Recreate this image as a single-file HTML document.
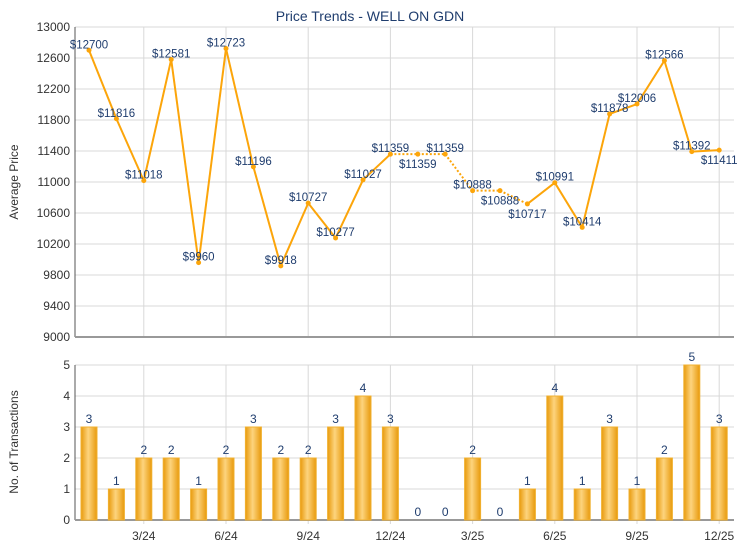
<!DOCTYPE html>
<html><head><meta charset="utf-8"><style>body{margin:0;background:#fff}svg{display:block;font-family:"Liberation Sans",sans-serif}</style></head><body>
<svg width="740" height="550" viewBox="0 0 740 550" xmlns="http://www.w3.org/2000/svg">
<defs><linearGradient id="g" x1="0" x2="1" y1="0" y2="0"><stop offset="0" stop-color="#e89a0c"/><stop offset="0.45" stop-color="#fdd47e"/><stop offset="1" stop-color="#e89a0c"/></linearGradient></defs>
<text x="370" y="21" text-anchor="middle" font-size="14" fill="#1f3d6e">Price Trends - WELL ON GDN</text>
<g id="grid" stroke="#d8d8d8" stroke-width="1"></g>
<g id="lines"></g>
<g id="bars"></g>
<g id="txt" font-size="11.5" fill="#1f3d6e"></g>
<g id="ax" font-size="12" fill="#333"></g>
<text transform="translate(18,182) rotate(-90)" text-anchor="middle" font-size="12" fill="#333">Average Price</text>
<text transform="translate(18,442) rotate(-90)" text-anchor="middle" font-size="12" fill="#333">No. of Transactions</text>
</svg>
<script>
const NS="http://www.w3.org/2000/svg";
function el(p,t,a,txt){const e=document.createElementNS(NS,t);for(const k in a)e.setAttribute(k,a[k]);if(txt!==undefined)e.textContent=txt;document.getElementById(p).appendChild(e);return e;}
const L=75,R=734,T1=27,B1=337,T2=365,B2=520;
const X=i=>89+i*27.4;
const Y1=v=>B1-(v-9000)*0.0775;
const Y2=v=>B2-v*31;
const P=[12700,11816,11018,12581,9960,12723,11196,9918,10727,10277,11027,11359,11359,11359,10888,10888,10717,10991,10414,11878,12006,12566,11392,11411];
const N=[3,1,2,2,1,2,3,2,2,3,4,3,0,0,2,0,1,4,1,3,1,2,5,3];
const below={12:1,15:1,16:1,23:1};
for(let v=9000;v<=13000;v+=400){const y=Y1(v);if(v>9000)el("grid","line",{x1:L,x2:R,y1:y,y2:y});el("ax","text",{x:70,y:y+4,"text-anchor":"end"},v);}
for(let v=0;v<=5;v++){const y=Y2(v);if(v>0)el("grid","line",{x1:L,x2:R,y1:y,y2:y});el("ax","text",{x:70,y:y+4,"text-anchor":"end"},v);}
const lab=["3/24","6/24","9/24","12/24","3/25","6/25","9/25","12/25"];
for(let k=0;k<8;k++){const i=2+3*k,x=X(i);el("grid","line",{x1:x,x2:x,y1:T1,y2:B1});el("grid","line",{x1:x,x2:x,y1:T2,y2:B2+4});el("ax","text",{x:x,y:540,"text-anchor":"middle"},lab[k]);}
el("grid","line",{x1:L,x2:L,y1:T1,y2:B1,stroke:"#555"});el("grid","line",{x1:L,x2:R,y1:B1,y2:B1,stroke:"#999","stroke-width":2});
el("grid","line",{x1:L,x2:L,y1:T2,y2:B2,stroke:"#555"});el("grid","line",{x1:L,x2:R,y1:B2,y2:B2,stroke:"#999","stroke-width":2});
for(let i=0;i<23;i++){const dot=(N[i+1]===0)||(N[i]===0);el("lines","line",{x1:X(i),y1:Y1(P[i]),x2:X(i+1),y2:Y1(P[i+1]),stroke:"#fca50a","stroke-width":2,"stroke-dasharray":dot?"2,2":"none"});}
P.forEach((v,i)=>{const x=X(i),y=Y1(v);el("lines","circle",{cx:x,cy:y,r:2.5,fill:"#fca50a"});el("txt","text",{x:x,y:below[i]?y+14:y-2,"text-anchor":"middle"},"$"+v);});
N.forEach((n,i)=>{const x=X(i);if(n>0)el("bars","rect",{x:x-8,y:Y2(n),width:16,height:n*31,fill:"url(#g)",stroke:"#f0b030","stroke-width":1});el("txt","text",{x:x,y:Y2(n)-4,"text-anchor":"middle","font-size":12},n);});
</script>
</body></html>
